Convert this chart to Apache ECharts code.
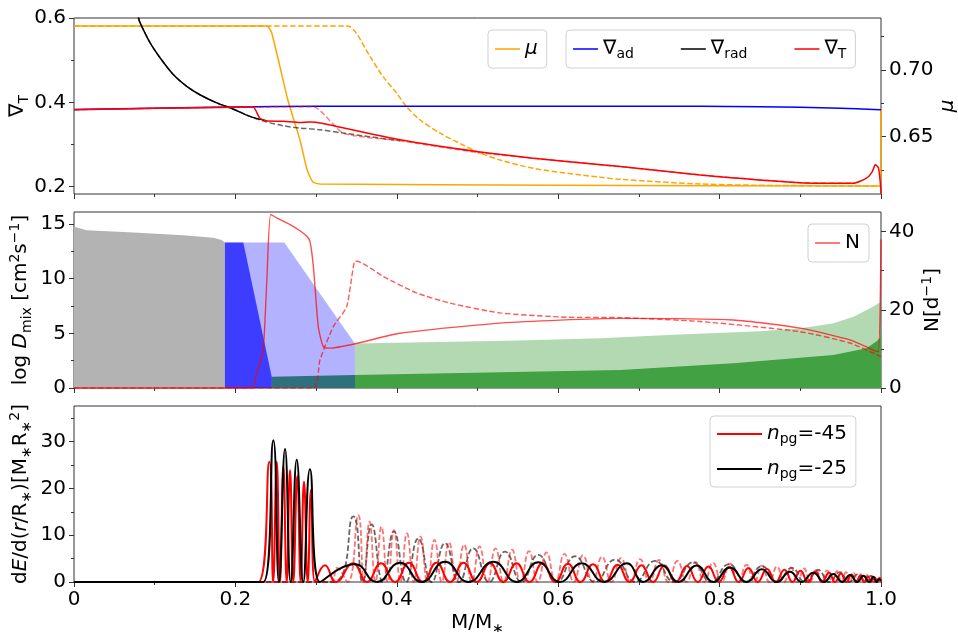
<!DOCTYPE html>
<html>
<head>
<meta charset="utf-8">
<script src="https://cdn.jsdelivr.net/npm/echarts@6/dist/echarts.min.js"></script>
<style>
  html, body { margin: 0; padding: 0; background: #fff; }
  #main { width: 958px; height: 632px; }
</style>
</head>
<body>
<div id="main"></div>
<script>
// tick values
var xMajor = [0, 0.2, 0.4, 0.6, 0.8, 1.0];
var xMinor = [0.1, 0.3, 0.5, 0.7, 0.9];
var gradMajor = [0.2, 0.4, 0.6];
var gradMinor = [0.3, 0.5];
var muMajor = [0.65, 0.70];
var muMinor = [0.625, 0.675, 0.725];
var dmixMajor = [0, 5, 10, 15];
var dmixMinor = [2.5, 7.5, 12.5];
var nMajor = [0, 20, 40];
var nMinor = [10, 30];
var eMajor = [0, 10, 20, 30];
var eMinor = [5, 15, 25, 35];

// top panel: mu and gradients, [M/M*, value]
var muSolid = [[0,0.733],[0.239,0.733],[0.245,0.7277],[0.265,0.6775],[0.280,0.6475],[0.289,0.625],[0.296,0.616],[0.305,0.6145],[0.6,0.6135],[0.9995,0.613],[1.0,0.67]];
var muDashed = [[0,0.733],[0.339,0.733],[0.342,0.7325],[0.350,0.7275],[0.367,0.710],[0.383,0.695],[0.400,0.6825],[0.412,0.6725],[0.429,0.6625],[0.454,0.6525],[0.478,0.645],[0.499,0.6388],[0.528,0.6325],[0.569,0.6263],[0.611,0.6226],[0.652,0.6196],[0.677,0.618],[0.776,0.6145],[0.875,0.6134],[1.0,0.613]];
var gradAd = [[0,0.383],[0.1,0.386],[0.2,0.389],[0.3,0.3905],[0.5,0.391],[0.7,0.391],[0.85,0.3895],[0.95,0.386],[1.0,0.3826]];
var gradRad = [[0.0797,0.601],[0.0818,0.589],[0.0942,0.5414],[0.1066,0.5057],[0.123,0.466],[0.1397,0.438],[0.156,0.418],[0.177,0.3986],[0.197,0.3843],[0.218,0.3667],[0.238,0.3564]];
var gradRad2 = [[0.0797,0.601],[0.0818,0.589],[0.0942,0.5414],[0.1066,0.5057],[0.123,0.466],[0.1397,0.438],[0.156,0.418],[0.177,0.3986],[0.197,0.3843],[0.218,0.3667],[0.239,0.3535],[0.259,0.3445],[0.280,0.339],[0.305,0.335],[0.3337,0.327],[0.404,0.3088]];
var gradT = [[0,0.3826],[0.1,0.386],[0.2,0.3885],[0.222,0.389],[0.230,0.3629],[0.238,0.3564],[0.26,0.355],[0.280,0.352],[0.292,0.3535],[0.300,0.353],[0.3255,0.3429],[0.404,0.3112],[0.499,0.2833],[0.569,0.2676],[0.677,0.2476],[0.776,0.2279],[0.900,0.2095],[0.9657,0.208],[0.982,0.22],[0.989,0.235],[0.993,0.2517],[0.9969,0.2445],[0.9996,0.200],[1.0,0.183]];
var gradT2 = [[0,0.3826],[0.2,0.3885],[0.296,0.3898],[0.3337,0.327],[0.404,0.3088],[0.499,0.2814],[0.569,0.2676],[0.677,0.2476],[0.776,0.2279],[0.9,0.2095],[0.9657,0.208]];

// middle panel: mixing zones (log D) and N
var dmixCore = [[0,14.74],[0.0157,14.44],[0.0735,14.23],[0.1354,13.98],[0.1726,13.74],[0.183,13.53],[0.187,13.32],[0.1871,0]];
var dmixConv = [[0.187,13.32],[0.2098,13.32],[0.245,1.03],[0.2451,0]];
var dmixOver = [[0.187,13.32],[0.2606,13.32],[0.348,4.08],[0.3481,0]];
var dmixEnvLight = [[0.348,4.08],[0.45,4.2],[0.55,4.35],[0.652,4.54],[0.75,4.9],[0.85,5.2],[0.9,5.46],[0.94,5.9],[0.966,6.52],[0.99,7.43],[1.0,7.89]];
var dmixEnvDark = [[0.245,1.03],[0.348,1.19],[0.677,1.65],[0.817,2.26],[0.941,3.02],[0.982,3.63],[0.995,4.3],[1.0,4.7]];
var nSolid = [[0,0],[0.2202,0],[0.2264,3.8],[0.2326,8.0],[0.2354,12.3],[0.2388,26.8],[0.2437,44.4],[0.2512,43.5],[0.2677,41.8],[0.28,40.2],[0.2884,38.8],[0.2924,37.5],[0.2966,31.1],[0.3027,15.7],[0.3089,10.6],[0.3172,10.2],[0.3482,11.3],[0.404,14.0],[0.528,16.6],[0.6766,17.8],[0.817,17.4],[0.900,15.3],[0.9616,12.3],[0.9905,9.7],[0.9967,9.3],[1.0,38]];
var nDashed = [[0,0],[0.2966,0],[0.3048,7.2],[0.3213,15.7],[0.3379,20.8],[0.3482,32.4],[0.3503,32.4],[0.3833,28.5],[0.4246,24.3],[0.4659,21.7],[0.5279,19.2],[0.6105,18.1],[0.6766,18.0],[0.7757,17.0],[0.8996,14.4],[0.9616,11.5],[0.9947,8.5],[1.0,8.0]];

// bottom panel: mode energy density
var n25Solid = [[0,0],[0.2346,0],[0.2470,30.3],[0.2540,0],[0.2615,28.4],[0.2685,0],[0.2760,26.1],[0.2841,0],[0.2924,24.1],[0.3048,0],[0.3482,3.8],[0.3751,0],[0.4040,4.1],[0.4309,0],[0.4597,4.3],[0.4886,0],[0.5196,4.3],[0.5486,0],[0.5753,4.2],[0.6022,0],[0.6291,4.0],[0.6568,0],[0.6849,4.0],[0.7055,0],[0.7283,3.6],[0.7488,0],[0.7716,3.5],[0.7922,0],[0.8129,3.1],[0.8336,0],[0.8522,2.7],[0.8708,0],[0.8872,2.2],[0.9017,0],[0.9161,2.0],[0.9294,0],[0.9409,1.7],[0.9520,0],[0.9616,1.5],[0.9706,0],[0.9781,1.35],[0.9855,0],[0.9905,1.1],[0.9947,0],[0.9975,0.6],[1.0,0.3]];
var n45Solid = [[0,0],[0.2284,0],[0.2420,25.7],[0.2468,0],[0.2512,25.7],[0.2553,0],[0.2594,24.8],[0.2636,0],[0.2677,23.9],[0.2717,0],[0.2767,22.6],[0.2809,0],[0.2850,21.4],[0.2896,0],[0.2937,19.7],[0.2986,0],[0.3110,3.6],[0.3247,0],[0.3457,4.0],[0.3631,0],[0.3804,4.0],[0.3978,0],[0.4151,4.1],[0.4322,0],[0.4492,4.1],[0.4659,0],[0.4827,4.1],[0.4991,0],[0.5155,4.0],[0.5319,0],[0.5483,4.0],[0.5644,0],[0.5806,4.0],[0.5963,0],[0.6121,3.9],[0.6276,0],[0.6431,3.8],[0.6583,0],[0.6735,3.7],[0.6883,0],[0.7032,3.6],[0.7175,0],[0.7317,3.5],[0.7457,0],[0.7596,3.4],[0.7729,0],[0.7862,3.3],[0.7989,0],[0.8116,3.2],[0.8237,0],[0.8358,3.0],[0.8473,0],[0.8587,2.8],[0.8696,0],[0.8804,2.6],[0.8903,0],[0.9002,2.4],[0.9095,0],[0.9188,2.2],[0.9272,0],[0.9356,2.0],[0.9430,0],[0.9504,1.8],[0.9569,0],[0.9634,1.6],[0.9690,0],[0.9746,1.4],[0.9792,0],[0.9839,1.2],[0.9879,0],[0.9919,1.0],[0.9947,0],[0.9975,0.8],[1.0,0]];
var n25Dashed = [[0,0],[0.3209,0],[0.3461,14.0],[0.3575,0],[0.3689,12.3],[0.3827,0],[0.3965,10.8],[0.4116,0],[0.4266,9.3],[0.4432,0],[0.4597,8.3],[0.4773,0],[0.4948,7.2],[0.5144,0],[0.5341,6.5],[0.5547,0],[0.5753,5.8],[0.5981,0],[0.6208,5.5],[0.6456,0],[0.6704,4.8],[0.6952,0],[0.7200,4.5],[0.7435,0],[0.7670,4.2],[0.7893,0],[0.8116,3.8],[0.8321,0],[0.8525,3.4],[0.8711,0],[0.8897,3.0],[0.9058,0],[0.9219,2.6],[0.9356,0],[0.9492,2.1],[0.9603,0],[0.9715,1.7],[0.9796,0],[0.9876,1.3],[0.9926,0],[0.9975,1.0],[1.0,0]];
var n45Dashed = [[0,0],[0.3172,0],[0.3259,3.0],[0.3390,0],[0.3523,14.3],[0.3592,0],[0.3662,12.9],[0.3736,0],[0.3810,11.8],[0.3888,0],[0.3965,11.1],[0.4046,0],[0.4126,10.4],[0.4210,0],[0.4294,9.7],[0.4380,0],[0.4467,9.0],[0.4557,0],[0.4647,8.5],[0.4740,0],[0.4833,8.0],[0.4929,0],[0.5025,7.6],[0.5124,0],[0.5223,7.2],[0.5325,0],[0.5428,6.9],[0.5533,0],[0.5638,6.6],[0.5747,0],[0.5855,6.3],[0.5967,0],[0.6078,6.0],[0.6193,0],[0.6307,5.7],[0.6425,0],[0.6543,5.4],[0.6660,0],[0.6778,5.1],[0.6896,0],[0.7014,4.9],[0.7131,0],[0.7249,4.7],[0.7364,0],[0.7478,4.5],[0.7590,0],[0.7701,4.3],[0.7810,0],[0.7918,4.1],[0.8024,0],[0.8129,3.9],[0.8231,0],[0.8333,3.7],[0.8429,0],[0.8525,3.5],[0.8618,0],[0.8711,3.3],[0.8798,0],[0.8885,3.1],[0.8965,0],[0.9046,2.9],[0.9120,0],[0.9195,2.7],[0.9263,0],[0.9331,2.5],[0.9393,0],[0.9455,2.3],[0.9511,0],[0.9566,2.1],[0.9616,0],[0.9665,1.9],[0.9709,0],[0.9752,1.7],[0.9789,0],[0.9827,1.5],[0.9857,0],[0.9888,1.3],[0.9916,0],[0.9944,1.1],[0.9966,0],[0.9988,0.9],[1.0,0]];

var FONT = 'DejaVu Sans';
var rich = {
    s: { fontSize: 14, lineHeight: 14, verticalAlign: 'bottom', fontFamily: FONT, color: '#000' },
    p: { fontSize: 14, lineHeight: 14, verticalAlign: 'top', fontFamily: FONT, color: '#000' },
    i: { fontSize: 20, fontStyle: 'italic', fontFamily: FONT, color: '#000' }
};
var legendText = {
    mu: '{i|μ}',
    nad: '∇{s|ad}',
    nrad: '∇{s|rad}',
    nT: '∇{s|T}',
    N: 'N',
    n45: '{i|n}{s|pg}=-45',
    n25: '{i|n}{s|pg}=-25'
};

var myChart = echarts.init(document.getElementById('main'), null, { renderer: 'canvas' });

var gridTops = [18, 212, 406];
var grids = gridTops.map(function (t) {
    return { left: 74, right: 77, top: t, height: 176, show: true, borderColor: '#333', borderWidth: 1, backgroundColor: 'transparent', outerBoundsMode: 'none' };
});

function ax(gridIndex, position, min, max, ticks, minor, fmt) {
    var a = {
        type: 'value', gridIndex: gridIndex, position: position, min: min, max: max,
        axisLine: { show: false },
        splitLine: { show: false },
        axisTick: { show: true, customValues: ticks, length: minor ? 3 : 5, lineStyle: { color: '#333', width: 1 } },
        axisLabel: { show: false }
    };
    if (!minor && fmt) {
        a.axisLabel = { show: true, customValues: ticks, formatter: fmt, fontSize: 20, color: '#000', fontFamily: FONT, margin: 8 };
    }
    return a;
}
function named(a, name, gap, loc) {
    a.name = name;
    a.nameLocation = 'middle';
    a.nameGap = gap;
    a.nameMoveOverlap = false;
    if (loc !== 'x') a.nameRotate = 90;
    a.nameTextStyle = { fontSize: 20, fontFamily: FONT, color: '#000', lineHeight: 26, rich: rich };
    return a;
}
var fx = function (v) { return v === 0 ? '0' : v.toFixed(1); };
var f1 = function (v) { return v.toFixed(1); };
var f2 = function (v) { return v.toFixed(2); };
var f0 = function (v) { return String(v); };

var xAxes = [
    ax(0, 'bottom', 0, 1, xMajor, false, null), ax(0, 'bottom', 0, 1, xMinor, true),
    ax(1, 'bottom', 0, 1, xMajor, false, null), ax(1, 'bottom', 0, 1, xMinor, true),
    named(ax(2, 'bottom', 0, 1, xMajor, false, fx), 'M/M{s|∗}', 28, 'x'), ax(2, 'bottom', 0, 1, xMinor, true)
];
var yAxes = [
    named(ax(0, 'left', 0.1826, 0.6, gradMajor, false, f1), '∇{s|T}', 43),
    ax(0, 'left', 0.1826, 0.6, gradMinor, true),
    named(ax(0, 'right', 0.607, 0.739, muMajor, false, f2), '{i|μ}', 54),
    ax(0, 'right', 0.607, 0.739, muMinor, true),
    named(ax(1, 'left', 0, 16.1, dmixMajor, false, f0), 'log {i|D}{s|mix} [cm{p|2}s{p|−1}]', 40),
    ax(1, 'left', 0, 16.1, dmixMinor, true),
    named(ax(1, 'right', 0, 45, nMajor, false, f0), 'N[d{p|−1}]', 39),
    ax(1, 'right', 0, 45, nMinor, true),
    named(ax(2, 'left', 0, 37.6, eMajor, false, f0), 'd{i|E}/d({i|r}/R{s|∗})[M{s|∗}R{s|∗}{p|2}]', 40),
    ax(2, 'left', 0, 37.6, eMinor, true)
];

function line(name, data, xi, yi, color, width, dashed, smooth) {
    return {
        name: name, type: 'line', data: data, xAxisIndex: xi, yAxisIndex: yi,
        symbol: 'none', smooth: smooth || false, animation: false,
        lineStyle: { color: color, width: width, type: dashed ? [5.5, 2.5] : 'solid' },
        itemStyle: { color: color }
    };
}
function area(name, data, xi, yi, color) {
    return {
        name: name, type: 'line', data: data, xAxisIndex: xi, yAxisIndex: yi,
        symbol: 'none', animation: false,
        lineStyle: { width: 0, color: color },
        areaStyle: { color: color, opacity: 1 },
        itemStyle: { color: color }
    };
}

var series = [
    // top
    line('mu', muSolid, 0, 2, '#ffa500', 1.5, false, 0.2),
    line('mu2', muDashed, 0, 2, '#ffa500', 1.5, true, 0.3),
    line('nad', gradAd, 0, 0, '#0000ff', 1.5, false, 0.3),
    line('nrad2', gradRad2, 0, 0, 'rgba(0,0,0,0.6)', 1.5, true, 0.3),
    line('nrad', gradRad, 0, 0, '#000', 1.5, false, 0.3),
    line('nT2', gradT2, 0, 0, 'rgba(255,0,0,0.5)', 1.5, true, 0.2),
    line('nT', gradT, 0, 0, '#ff0000', 1.5, false, 0.2),
    // middle
    area('core', dmixCore, 2, 4, '#b3b3b3'),
    area('envL', dmixEnvLight, 2, 4, 'rgba(0,128,0,0.3)'),
    area('envD', dmixEnvDark, 2, 4, '#42a142'),
    area('over', dmixOver, 2, 4, 'rgba(0,0,255,0.3)'),
    area('conv', dmixConv, 2, 4, 'rgba(0,0,255,0.66)'),
    line('N2', nDashed, 2, 6, 'rgba(255,0,0,0.65)', 1.4, true, 0.2),
    line('N', nSolid, 2, 6, 'rgba(255,0,0,0.7)', 1.4, false, 0.2),
    // bottom
    line('n25b', n25Dashed, 4, 8, 'rgba(0,0,0,0.6)', 1.8, true, 0.5),
    line('n45b', n45Dashed, 4, 8, 'rgba(255,0,0,0.55)', 1.8, true, 0.5),
    line('n45', n45Solid, 4, 8, '#ff0000', 2, false, 0.5),
    line('n25', n25Solid, 4, 8, '#000000', 2, false, 0.5)
];

function legend(names, left, top, opts) {
    var l = {
        data: names, left: left, top: top, orient: 'horizontal', icon: 'rect',
        padding: [7, 9, 7, 7], itemWidth: 25, itemHeight: 1.5, itemGap: 47, itemTextGap: 5,
        borderColor: '#d0d0d0', borderWidth: 1, borderRadius: 4, backgroundColor: 'rgba(255,255,255,0.8)',
        selectedMode: false,
        textStyle: { fontSize: 20, fontFamily: FONT, color: '#000', lineHeight: 24, rich: rich },
        formatter: function (n) { return legendText[n]; }
    };
    for (var k in opts) l[k] = opts[k];
    return l;
}

var option = {
    animation: false,
    grid: grids,
    xAxis: xAxes,
    yAxis: yAxes,
    legend: [
        legend(['mu'], 488, 30, {}),
        legend(['nad', 'nrad', 'nT'], 566, 30, {}),
        legend(['N'], 808, 224, {}),
        legend(['n45', 'n25'], 710, 416, { orient: 'vertical', itemWidth: 45, itemHeight: 2, itemTextGap: 16, itemGap: 11, padding: [6, 9, 6, 7] })
    ],
    series: series
};

myChart.setOption(option);
</script>
</body>
</html>
